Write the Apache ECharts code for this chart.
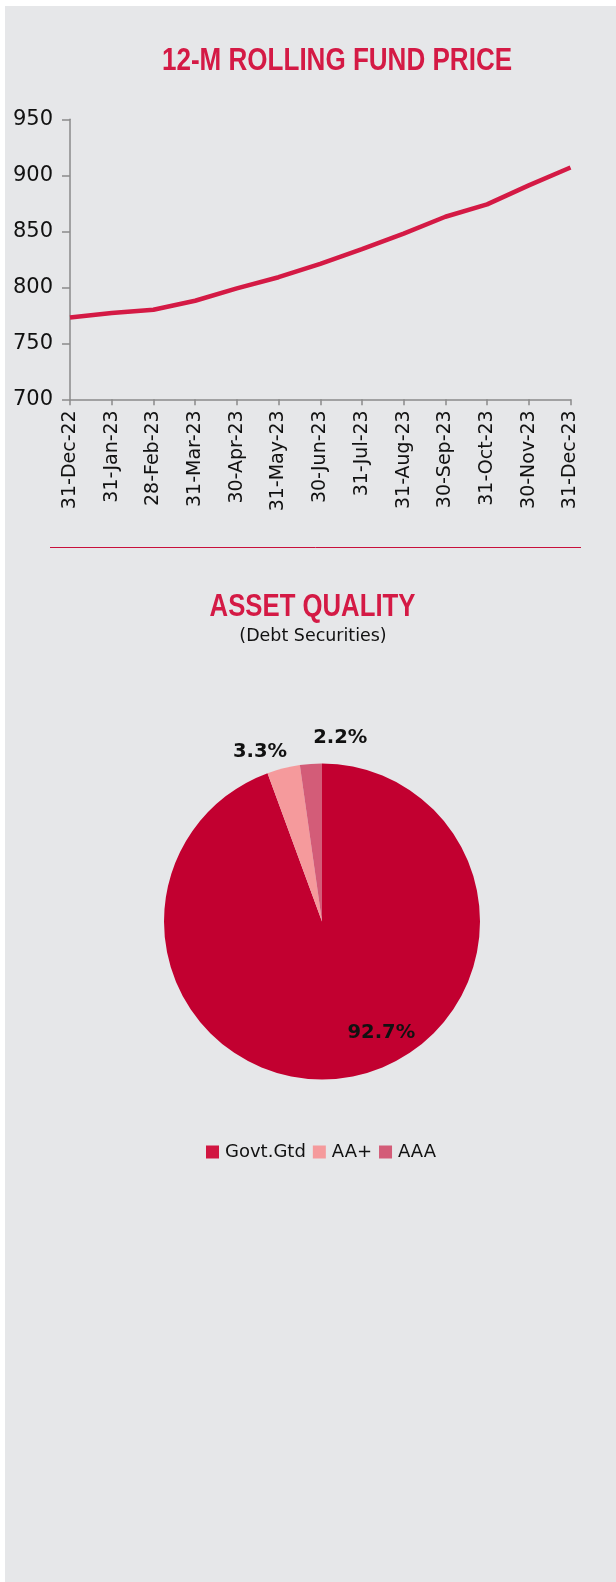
<!DOCTYPE html>
<html>
<head>
<meta charset="utf-8">
<title>12-M Rolling Fund Price / Asset Quality</title>
<script src="https://cdn.jsdelivr.net/npm/echarts@6/dist/echarts.min.js"></script>
<style>
    html, body { margin: 0; padding: 0; background: #ffffff; }
    .page { width: 616px; height: 1582px; }
</style>
</head>
<body>
<div class="page"></div>
<script>
// 12个月净值走势 数据
var navDates = ['31-Dec-22', '31-Jan-23', '28-Feb-23', '31-Mar-23', '30-Apr-23', '31-May-23', '30-Jun-23',
    '31-Jul-23', '31-Aug-23', '30-Sep-23', '31-Oct-23', '30-Nov-23', '31-Dec-23'];
var navValues = [773, 777, 780, 788, 799, 809, 821, 834, 848, 863, 874, 891, 907];
var navTicks = [700, 750, 800, 850, 900, 950];

// 资产质量 饼图数据
var ratingNames = ['Govt.Gtd', 'AA+', 'AAA'];
var ratingValues = [92.7, 3.3, 2.2];

(function () {
    var myChart = echarts.init(document.querySelector(".page"));
    var red = '#d41a45';
    var sliceColors = ['#c20030', '#f59a9c', '#d35c78'];
    var legendColors = ['#d11641', '#f59a9c', '#d35c78'];
    // 标签位置偏移（相对扇区内部默认位置）
    var labelOffsets = [[45, 31], [-42, -90], [24, -102]];

    // 标题文字（窄体字没有安装，用横向压缩代替）
    function headText(text, x, y, size, weight, color, sx) {
        return {
            type: 'text',
            x: x,
            y: y,
            scaleX: sx,
            style: {
                text: text,
                align: 'center',
                verticalAlign: 'middle',
                fontFamily: weight === 'bold' ? 'Liberation Sans' : 'DejaVu Sans',
                fontWeight: weight,
                fontSize: size,
                fill: color
            }
        };
    }

    var pieData = ratingNames.map(function (name, i) {
        return {
            name: name,
            value: ratingValues[i],
            itemStyle: { color: sliceColors[i] },
            label: { offset: labelOffsets[i] }
        };
    });

    var option = {
        backgroundColor: '#ffffff',
        animation: false,
        graphic: [
            // 灰色底板
            {
                type: 'rect',
                z: -10,
                shape: { x: 5, y: 6, width: 611, height: 1576 },
                style: { fill: '#e6e7e9' }
            },
            // 中间分隔线
            {
                type: 'line',
                shape: { x1: 50, y1: 547.5, x2: 581, y2: 547.5 },
                style: { stroke: '#c8103c', lineWidth: 1 }
            },
            headText('12-M ROLLING FUND PRICE', 337, 61, 31, 'bold', red, 0.84),
            headText('ASSET QUALITY', 312.5, 607, 31, 'bold', red, 0.83),
            headText('(Debt Securities)', 313, 636, 18, 'normal', '#111', 0.97)
        ],
        legend: {
            left: 206,
            top: 1143,
            padding: 0,
            itemWidth: 13,
            itemHeight: 13,
            itemGap: 7,
            icon: 'rect',
            data: ratingNames.map(function (name, i) {
                return { name: name, itemStyle: { color: legendColors[i] } };
            }),
            textStyle: { color: '#111', fontFamily: 'DejaVu Sans', fontSize: 18, lineHeight: 18, padding: [0, 0, 0, 1] }
        },
        grid: {
            left: 70,
            right: 45.5,
            top: 119.3,
            bottom: 1182.7
        },
        xAxis: {
            type: 'category',
            boundaryGap: false,
            data: navDates,
            axisLine: { lineStyle: { color: '#8a8a8a', width: 1.5 } },
            axisTick: { show: true, length: 6, alignWithLabel: true, lineStyle: { color: '#8a8a8a', width: 1.5 } },
            axisLabel: {
                rotate: 90,
                interval: 0,
                margin: 11,
                color: '#111',
                fontFamily: 'DejaVu Sans',
                fontSize: 19
            },
            splitLine: { show: false }
        },
        yAxis: {
            type: 'value',
            min: navTicks[0],
            max: navTicks[navTicks.length - 1],
            interval: 50,
            axisLine: { show: true, lineStyle: { color: '#8a8a8a', width: 1.5 } },
            axisTick: { show: true, length: 8, lineStyle: { color: '#8a8a8a', width: 1.5 } },
            axisLabel: {
                margin: 17,
                color: '#111',
                fontFamily: 'DejaVu Sans',
                fontSize: 21
            },
            splitLine: { show: false }
        },
        series: [{
            name: 'NAV',
            type: 'line',
            data: navValues,
            symbol: 'none',
            smooth: false,
            lineStyle: { color: red, width: 4.5 },
            itemStyle: { color: red }
        }, {
            name: 'Asset Quality',
            type: 'pie',
            center: [322, 921.5],
            radius: [0, 158],
            startAngle: 90,
            clockwise: true,
            data: pieData,
            label: {
                show: true,
                position: 'inside',
                formatter: function (p) { return p.value + '%'; },
                color: '#111',
                fontFamily: 'DejaVu Sans',
                fontWeight: 'bold',
                fontSize: 19.5
            },
            labelLine: { show: false },
            emphasis: { disabled: true }
        }]
    };
    myChart.setOption(option);
    window.addEventListener("resize", function () {
        myChart.resize();
    });
})();
</script>
</body>
</html>
